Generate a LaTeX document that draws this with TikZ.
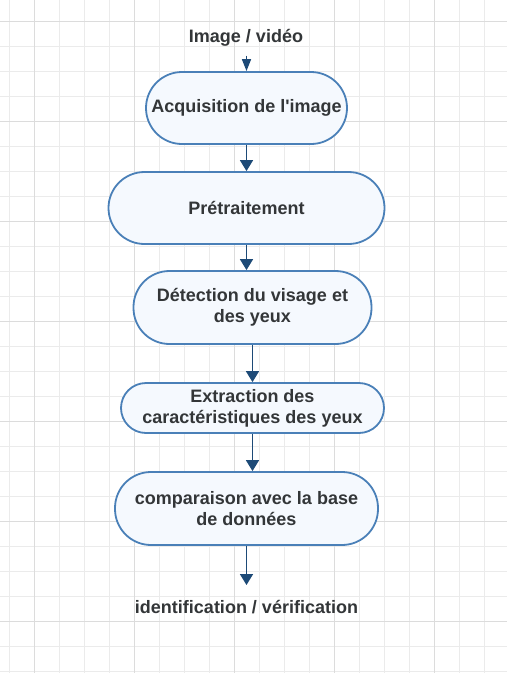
\documentclass[tikz,border=0pt]{standalone}
\usepackage{fontspec}
\setmainfont{Liberation Sans}
\usetikzlibrary{arrows.meta}
\definecolor{bordure}{HTML}{4A80B8}
\definecolor{fond}{HTML}{F5F9FE}
\definecolor{trait}{HTML}{1D4A77}
\definecolor{texte}{HTML}{333638}
\definecolor{grillefine}{HTML}{EBEBEB}
\definecolor{grillegrosse}{HTML}{DCDCDC}
\tikzset{
  etape/.style={rectangle, draw=bordure, fill=fond, line width=1.8, align=center,
    text=texte, font=\bfseries\fontsize{18}{21}\selectfont, inner sep=0},
  libre/.style={text=texte, font=\bfseries\fontsize{18}{21}\selectfont, inner sep=3},
  fleche/.style={trait, line width=1.6, -{Triangle[length=11pt,width=13pt]}}
}
\begin{document}
\begin{tikzpicture}[x=1pt, y=-1pt]
      \useasboundingbox (0,0) rectangle (507,673);
      \fill[white] (0,0) rectangle (507,673);
      % grid
      \foreach \gx in {9.3,34.3,...,507} \draw[grillefine, line width=1] (\gx,0) -- (\gx,673);
      \foreach \gy in {21,46,...,673} \draw[grillefine, line width=1] (0,\gy) -- (507,\gy);
      \foreach \gx in {34.3,134.3,...,507} \draw[grillegrosse, line width=1] (\gx,0) -- (\gx,673);
      \foreach \gy in {21,121,...,673} \draw[grillegrosse, line width=1] (0,\gy) -- (507,\gy);
      % steps
      \node[libre] (In) at (246,38) {Image / vidéo};
      \node[etape, minimum width=201, minimum height=72, rounded corners=36] (B1) at (246.5,108) {Acquisition de l\textquotesingle image};
      \node[etape, minimum width=276, minimum height=72, rounded corners=36] (B2) at (246.5,208) {Prétraitement};
      \node[etape, minimum width=238, minimum height=73, rounded corners=36] (B3) at (252.5,307.5) {Détection du visage et\\des yeux};
      \node[etape, minimum width=263, minimum height=50, rounded corners=25] (B4) at (252.5,408) {Extraction des\\caractéristiques des yeux};
      \node[etape, minimum width=263, minimum height=73, rounded corners=36] (B5) at (246.5,508.5) {comparaison avec la base\\de données};
      \node[libre] (Out) at (246.5,607) {identification / vérification};
      % arrows
      \draw[fleche, -{Triangle[length=12pt,width=9pt]}, shorten <=6] (In.south -| B1.north) -- (B1.north);
      \draw[fleche] (B1) -- (B2);
      \draw[fleche] (B2.south) -- (B2.south |- B3.north);
      \draw[fleche] (B3) -- (B4);
      \draw[fleche] (B4.south) -- (B4.south |- B5.north);
      \draw[fleche, shorten >=12] (B5) -- (Out);
\end{tikzpicture}
\end{document}
